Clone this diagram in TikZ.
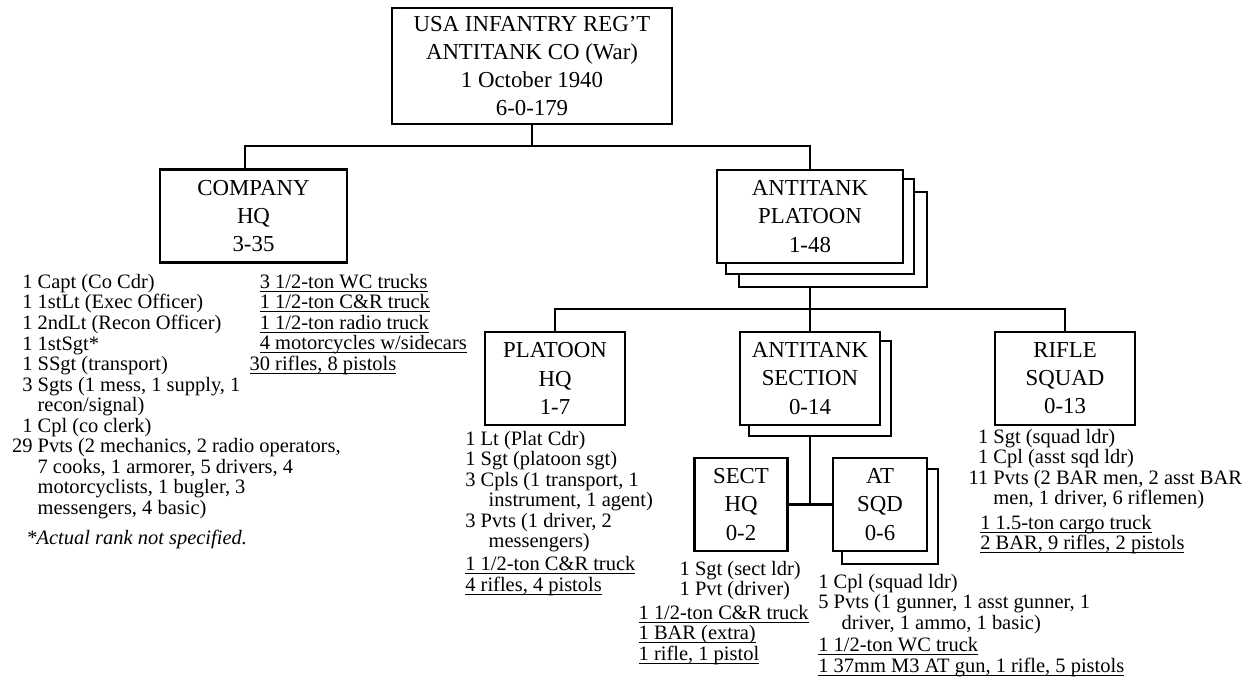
\documentclass[tikz,border=0pt]{standalone}
\usepackage{fontspec}
\setmainfont{Liberation Serif}
\usetikzlibrary{backgrounds}

\newcommand{\uln}[1]{\setbox0\hbox{#1}\rlap{\rule[-2pt]{\wd0}{0.6pt}}\box0}
\newcommand{\cont}{\hspace*{4.5pt}}

\tikzset{
    unit/.style={draw, fill=white, line width=1.3pt, inner sep=0pt, align=center,
        font=\fontsize{13}{16}\selectfont},
    link/.style={line width=1.3pt},
    list/.style={anchor=base west, inner sep=0pt, font=\fontsize{11.65}{11.7}\selectfont},
}

\begin{document}
\begin{tikzpicture}[x=0.02cm, y=-0.02cm]
    \useasboundingbox (0,0) rectangle (1250,679);
    % boxes
    \node[unit, minimum width=5.6cm, minimum height=2.32cm] (regt) at (532,66)
        {USA INFANTRY REG'T\\ANTITANK CO (War)\\1 October 1940\\6-0-179};
    \node[unit, minimum width=3.74cm, minimum height=1.86cm] (cohq) at (253.5,216) {COMPANY\\HQ\\3-35};
    \node[unit, minimum width=3.72cm, minimum height=1.86cm] (atplt) at (810,216.5) {ANTITANK\\PLATOON\\1-48};
    \node[unit, minimum width=2.8cm, minimum height=1.86cm] (plthq) at (555,378.5) {PLATOON\\HQ\\1-7};
    \node[unit, minimum width=2.8cm, minimum height=1.86cm] (atsec) at (810,378.5) {ANTITANK\\SECTION\\0-14};
    \node[unit, minimum width=2.8cm, minimum height=1.86cm] (rifsqd) at (1065,378.5) {RIFLE\\SQUAD\\0-13};
    \node[unit, minimum width=1.86cm, minimum height=1.85cm] (secthq) at (741,504.5) {SECT\\HQ\\0-2};
    \node[unit, minimum width=1.87cm, minimum height=1.85cm] (atsqd) at (880,504.5) {AT\\SQD\\0-6};

    % stacked copies behind
    \begin{scope}[on background layer]
        \foreach \d in {23,10}{
            \draw[link, fill=white] ([shift={(\d,\d)}]atplt.south west) rectangle ([shift={(\d,\d)}]atplt.north east);
        }
        \draw[link, fill=white] ([shift={(10,10)}]atsec.south west) rectangle ([shift={(10,10)}]atsec.north east);
        \draw[link, fill=white] ([shift={(10,12)}]atsqd.south west) rectangle ([shift={(10,12)}]atsqd.north east);
    \end{scope}

    % connectors
    \coordinate (jtop) at (532,146);
    \coordinate (jplt) at (810,309);
    \coordinate (jsec) at (810,504.5);
    \coordinate (atpltb) at ([yshift=-0.46cm]atplt.south);
    \coordinate (atsecb) at ([yshift=-0.2cm]atsec.south);
    \draw[link] (regt.south) -- (jtop);
    \draw[link] (jtop) -| ([xshift=-0.17cm]cohq.north);
    \draw[link] (jtop) -| (atplt.north);
    \draw[link] (atpltb) -- (atsec.north);
    \draw[link] (jplt) -| (plthq.north);
    \draw[link] (jplt) -| (rifsqd.north);
    \draw[link] (atsecb) -- (jsec);
    \draw[link] (secthq.east) -- (atsqd.west);

    % company hq
    \node[list] (cohqmen) at (11.7,288.3) {\begin{tabular}[t]{@{}r@{\ }l@{}}
        1 & Capt (Co Cdr)\\
        1 & 1stLt (Exec Officer)\\
        1 & 2ndLt (Recon Officer)\\
        1 & 1stSgt*\\
        1 & SSgt (transport)\\
        3 & Sgts (1 mess, 1 supply, 1\\
          & recon/signal)\\
        1 & Cpl (co clerk)\\
        29 & Pvts (2 mechanics, 2 radio operators,\\
          & 7 cooks, 1 armorer, 5 drivers, 4\\
          & motorcyclists, 1 bugler, 3\\
          & messengers, 4 basic)
    \end{tabular}};
    \node[list] (cohqeqp) at (249.3,288.3) {\begin{tabular}[t]{@{}r@{}l@{}}
        \uln{3} & \uln{\ 1/2-ton WC trucks}\\
        \uln{1} & \uln{\ 1/2-ton C\&R truck}\\
        \uln{1} & \uln{\ 1/2-ton radio truck}\\
        \uln{4} & \uln{\ motorcycles w/sidecars}\\
        \uln{30} & \uln{\ rifles, 8 pistols}
    \end{tabular}};
    \node[list, font=\fontsize{11.65}{11.7}\selectfont\itshape] (note) at (26,544) {*Actual rank not specified.};

    % platoon hq
    \node[list] (plthqmen) at (465,445) {\begin{tabular}[t]{@{}r@{\ }l@{}}
        1 & Lt (Plat Cdr)\\
        1 & Sgt (platoon sgt)\\
        3 & Cpls (1 transport, 1\\
          & \cont instrument, 1 agent)\\
        3 & Pvts (1 driver, 2\\
          & \cont messengers)
    \end{tabular}};
    \node[list] (plthqeqp) at (465,570.7) {\begin{tabular}[t]{@{}l@{}}
        \uln{1 1/2-ton C\&R truck}\\
        \uln{4 rifles, 4 pistols}
    \end{tabular}};

    % section hq
    \node[list] (secthqmen) at (679.3,575) {\begin{tabular}[t]{@{}l@{}}
        1 Sgt (sect ldr)\\
        1 Pvt (driver)
    \end{tabular}};
    \node[list] (secthqeqp) at (638.3,619.3) {\begin{tabular}[t]{@{}l@{}}
        \uln{1 1/2-ton C\&R truck}\\
        \uln{1 BAR (extra)}\\
        \uln{1 rifle, 1 pistol}
    \end{tabular}};

    % at squad
    \node[list] (atsqdmen) at (818,588.3) {\begin{tabular}[t]{@{}r@{\ }l@{}}
        1 & Cpl (squad ldr)\\
        5 & Pvts (1 gunner, 1 asst gunner, 1\\
          & \cont driver, 1 ammo, 1 basic)
    \end{tabular}};
    \node[list] (atsqdeqp) at (818,651.7) {\begin{tabular}[t]{@{}l@{}}
        \uln{1 1/2-ton WC truck}\\
        \uln{1 37mm M3 AT gun, 1 rifle, 5 pistols}
    \end{tabular}};

    % rifle squad
    \node[list] (rifsqdmen) at (968.3,443.3) {\begin{tabular}[t]{@{}r@{\ }l@{}}
        1 & Sgt (squad ldr)\\
        1 & Cpl (asst sqd ldr)\\
        11 & Pvts (2 BAR men, 2 asst BAR\\
           & men, 1 driver, 6 riflemen)
    \end{tabular}};
    \node[list] (rifsqdeqp) at (980,529.3) {\begin{tabular}[t]{@{}l@{}}
        \uln{1 1.5-ton cargo truck}\\
        \uln{2 BAR, 9 rifles, 2 pistols}
    \end{tabular}};
\end{tikzpicture}
\end{document}
